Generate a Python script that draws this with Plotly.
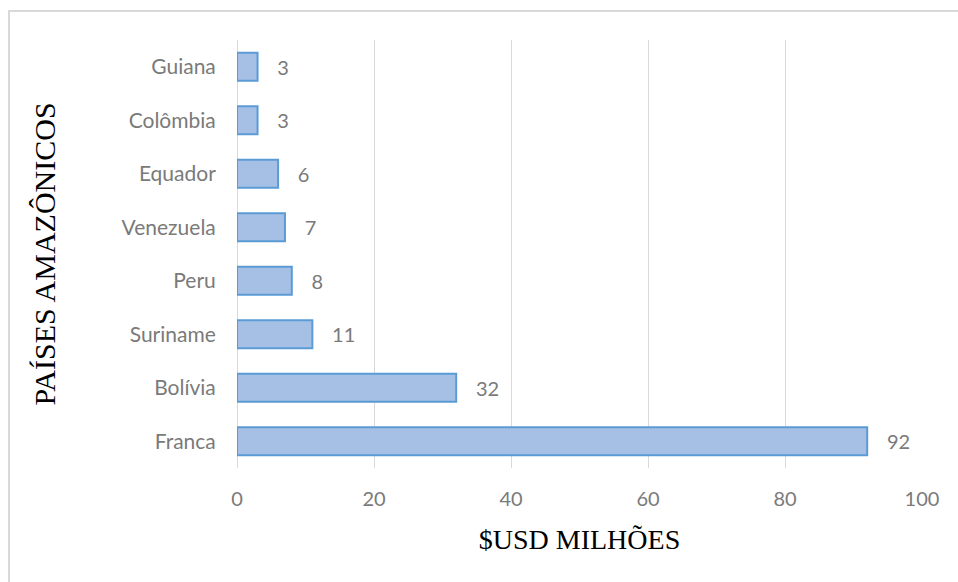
import plotly.graph_objects as go

countries = ["Franca", "Bolívia", "Suriname", "Peru", "Venezuela", "Equador", "Colômbia", "Guiana"]
values = [92, 32, 11, 8, 7, 6, 3, 3]
x_ticks = [0, 20, 40, 60, 80, 100]

L, R, T, B = 237, 36, 40, 114
W, H = 958, 582
pw, ph = W - L - R, H - T - B

fig = go.Figure()
fig.add_trace(go.Bar(
    y=countries, x=values, orientation="h",
    width=0.52,
    marker=dict(color="#a6c0e5", line=dict(color="#5b9bd5", width=2)),
    text=["\u2007\u00a0" + str(v) for v in values], textposition="outside",
    textfont=dict(family="Lato", size=20, color="#7a7a7a"),
    cliponaxis=False,
))

fig.update_layout(
    width=W, height=H,
    margin=dict(l=L, r=R, t=T, b=B),
    paper_bgcolor="white", plot_bgcolor="white",
    showlegend=False,
    xaxis=dict(
        range=[0, 100], tickvals=x_ticks, ticktext=[str(t) for t in x_ticks],
        showgrid=True, gridcolor="#d9d9d9", gridwidth=1,
        zeroline=True, zerolinecolor="#d9d9d9", zerolinewidth=1,
        showline=False,
        ticks="outside", ticklen=13, tickcolor="rgba(0,0,0,0)",
        tickfont=dict(family="Lato", size=20, color="#7a7a7a"),
        title=dict(text="$USD MILHÕES", standoff=20,
                   font=dict(family="Liberation Serif", size=28, color="black")),
        fixedrange=True,
    ),
    yaxis=dict(
        showgrid=False, zeroline=False, showline=False,
        ticks="outside", ticklen=16, tickcolor="rgba(0,0,0,0)",
        tickfont=dict(family="Lato", size=21, color="#7a7a7a"),
        title=dict(text="PAÍSES AMAZÔNICOS", standoff=57,
                   font=dict(family="Liberation Serif", size=30, color="black")),
        fixedrange=True,
    ),
    shapes=[dict(
        type="rect", xref="paper", yref="paper",
        x0=(9 - L) / pw, x1=(965 - L) / pw,
        y0=(H - B - 595) / ph, y1=(H - B - 11) / ph,
        line=dict(color="#d9d9d9", width=2), fillcolor="rgba(0,0,0,0)", layer="below",
    )],
)

fig.write_html(
    "out.html",
    config={"displayModeBar": False},
    post_script="document.body.style.margin='0';document.body.style.overflow='hidden';",
)
